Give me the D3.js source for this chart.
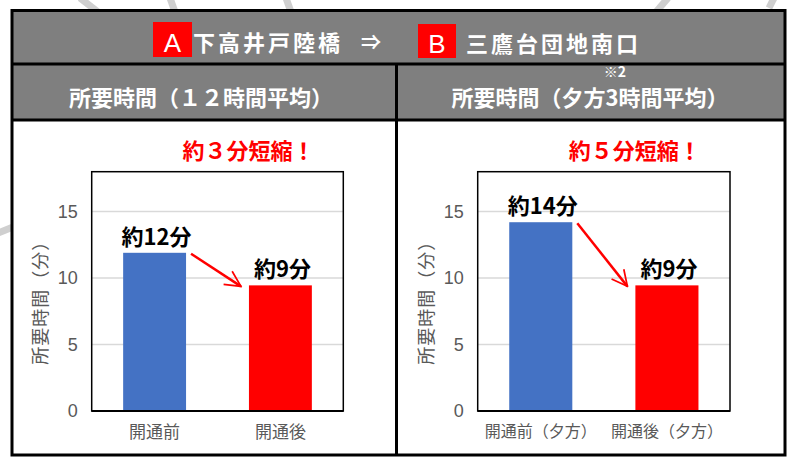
<!DOCTYPE html>
<html><head><meta charset="utf-8">
<script src="https://cdn.jsdelivr.net/npm/d3@7"></script>
<style>
html,body{margin:0;padding:0;background:#fff;}
svg{display:block;}
</style></head>
<body>
<svg id="chart" width="787" height="459"></svg>
<script>
// ---- data ----
const routeFrom = "下高井戸陸橋";
const routeTo = "三鷹台団地南口";
const markerFrom = "A";
const markerTo = "B";
const panelTitles = ["所要時間（１２時間平均）", "所要時間（夕方3時間平均）"];
const panelNote = "※2";
const categoriesLeft = ["開通前", "開通後"];
const valuesLeft = [11.9, 9.45];
const labelsLeft = ["約12分", "約9分"];
const categoriesRight = ["開通前（夕方）", "開通後（夕方）"];
const valuesRight = [14.2, 9.45];
const labelsRight = ["約14分", "約9分"];
const callouts = ["約３分短縮！", "約５分短縮！"];
const yTicks = [0, 5, 10, 15];
const yMax = 18;
const yTitle = "所要時間（分）";
const barColors = ["#4472C4", "#FF0000"];

const svg = d3.select("#chart");
const JP = "'Noto Sans CJK JP','Noto Sans',sans-serif";
const NARROW = "'Liberation Sans Narrow','Arial Narrow','Liberation Sans',sans-serif";

// background decorative strokes (map lines behind)
const bg = svg.append("g").attr("stroke", "#cfcfcf").attr("stroke-width", 7).attr("stroke-linecap", "butt");
[[80,-2,98,12],[170,-2,175,12],[286,-2,291,12],[668,-2,656,12],[774,-2,769,8],[-2,233,13,227]].forEach(s=>{
  bg.append("line").attr("x1",s[0]).attr("y1",s[1]).attr("x2",s[2]).attr("y2",s[3]);
});

// frame
const L = 12, R = 785, T = 10.5, B = 455, midX = 396.5;
svg.append("rect").attr("x", L).attr("y", T).attr("width", R-L).attr("height", B-T).attr("fill", "#fff");
svg.append("rect").attr("x", L).attr("y", T).attr("width", R-L).attr("height", 53).attr("fill", "#7f7f7f");
svg.append("rect").attr("x", L).attr("y", 64.5).attr("width", R-L).attr("height", 55).attr("fill", "#7f7f7f");

// header content
const hdr = svg.append("g");
hdr.append("rect").attr("x", 153).attr("y", 22).attr("width", 39).attr("height", 35).attr("fill", "#FF0000");
hdr.append("text").attr("x", 172.5).attr("y", 51.5).attr("text-anchor", "middle")
  .attr("font-family", "'Liberation Sans',Arial,sans-serif").attr("font-size", 26).attr("fill", "#fff").text(markerFrom);
hdr.append("text").attr("x", 193).attr("y", 41).attr("dominant-baseline", "central")
  .attr("font-family", JP).attr("font-weight", 700).attr("font-size", 22).attr("letter-spacing", 3)
  .attr("fill", "#fff").text(routeFrom);
hdr.append("text").attr("x", 371).attr("y", 41).attr("dominant-baseline", "central").attr("text-anchor", "middle")
  .attr("font-family", JP).attr("font-weight", 700).attr("font-size", 20).attr("fill", "#fff").text("⇒");
hdr.append("rect").attr("x", 418).attr("y", 24).attr("width", 38).attr("height", 34).attr("fill", "#FF0000");
hdr.append("text").attr("x", 437).attr("y", 52.5).attr("text-anchor", "middle")
  .attr("font-family", "'Liberation Sans',Arial,sans-serif").attr("font-size", 26).attr("fill", "#fff").text(markerTo);
hdr.append("text").attr("x", 466).attr("y", 42).attr("dominant-baseline", "central")
  .attr("font-family", JP).attr("font-weight", 700).attr("font-size", 22).attr("letter-spacing", 3)
  .attr("fill", "#fff").text(routeTo);

// panel titles
const titleX = [201, 590];
panelTitles.forEach((t,i)=>{
  svg.append("text").attr("x", titleX[i]).attr("y", 96).attr("dominant-baseline", "central").attr("text-anchor", "middle")
    .attr("font-family", JP).attr("font-weight", 700).attr("font-size", 22).attr("fill", "#fff").text(t);
});
svg.append("text").attr("x", 615).attr("y", 71).attr("dominant-baseline", "central").attr("text-anchor", "middle")
  .attr("font-family", JP).attr("font-weight", 700).attr("font-size", 14).attr("fill", "#fff").text(panelNote);

// frame lines
const fr = svg.append("g").attr("stroke", "#000").attr("stroke-width", 3).attr("fill", "none");
fr.append("rect").attr("x", L).attr("y", T).attr("width", R-L).attr("height", B-T);
fr.append("line").attr("x1", L).attr("x2", R).attr("y1", 64).attr("y2", 64);
fr.append("line").attr("x1", L).attr("x2", R).attr("y1", 120).attr("y2", 120);
fr.append("line").attr("x1", midX).attr("x2", midX).attr("y1", 64).attr("y2", B);

// arrow marker
const defs = svg.append("defs");
defs.append("marker").attr("id", "arrowhead").attr("viewBox", "0 0 12 12").attr("refX", 11).attr("refY", 6)
  .attr("markerWidth", 7.5).attr("markerHeight", 7.5).attr("markerUnits", "strokeWidth").attr("orient", "auto")
  .append("path").attr("d", "M1,1 L11,6 L1,11").attr("fill", "none").attr("stroke", "#FF0000").attr("stroke-width", 1.1);

function drawPanel(cfg){
  const {x0, x1, cats, vals, labels, callout, catFont} = cfg;
  const y0 = 171.7, y1 = 411;
  const x = d3.scaleBand().domain(cats).range([x0, x1]).paddingInner(0.5).paddingOuter(0.25);
  const y = d3.scaleLinear().domain([0, yMax]).range([y1, y0]);
  const g = svg.append("g");

  // gridlines
  g.append("g").selectAll("line").data(yTicks.filter(d=>d>0)).join("line")
    .attr("x1", x0).attr("x2", x1).attr("y1", d=>y(d)).attr("y2", d=>y(d))
    .attr("stroke", "#d9d9d9").attr("stroke-width", 1.5);

  // y axis tick labels
  const ax = g.append("g").attr("transform", `translate(${x0},0)`)
    .call(d3.axisLeft(y).tickValues(yTicks).tickSize(0).tickPadding(14));
  ax.select(".domain").remove();
  ax.selectAll("text").attr("font-family", NARROW).attr("font-size", 18).attr("fill", "#595959");

  // bars
  g.append("g").selectAll("rect").data(vals).join("rect")
    .attr("x", (d,i)=>x(cats[i])).attr("width", x.bandwidth())
    .attr("y", d=>y(d)).attr("height", d=>y1 - y(d))
    .attr("fill", (d,i)=>barColors[i]);

  // plot frame
  g.append("rect").attr("x", x0).attr("y", y0).attr("width", x1-x0).attr("height", y1-y0)
    .attr("fill", "none").attr("stroke", "#000").attr("stroke-width", 1.5);
  g.append("line").attr("x1", x0).attr("x2", x1).attr("y1", y1).attr("y2", y1).attr("stroke", "#000").attr("stroke-width", 2);

  // x category labels
  const xa = g.append("g").attr("transform", `translate(0,${y1})`)
    .call(d3.axisBottom(x).tickSize(0).tickPadding(15));
  xa.select(".domain").remove();
  xa.selectAll("text").attr("font-family", JP).attr("font-size", catFont).attr("fill", "#595959");

  // y title
  g.append("text").attr("transform", `translate(${x0-53},${(y0+y1)/2+7}) rotate(-90)`)
    .attr("text-anchor", "middle").attr("dominant-baseline", "central")
    .attr("font-family", JP).attr("font-size", 18).attr("letter-spacing", 1).attr("fill", "#595959").text(yTitle);

  // value labels
  g.append("g").selectAll("text").data(labels).join("text")
    .attr("x", (d,i)=>x(cats[i]) + x.bandwidth()/2 + 2).attr("y", (d,i)=>y(vals[i]) - 18)
    .attr("text-anchor", "middle").attr("dominant-baseline", "central")
    .attr("font-family", JP).attr("font-weight", 700).attr("font-size", 22).attr("fill", "#000").text(d=>d);

  // arrow
  g.append("line")
    .attr("x1", x(cats[0]) + x.bandwidth() + 5).attr("y1", y(vals[0]) + 1)
    .attr("x2", x(cats[1]) - 8).attr("y2", y(vals[1]) + 1)
    .attr("stroke", "#FF0000").attr("stroke-width", 2.5).attr("marker-end", "url(#arrowhead)");

  // callout
  g.append("text").attr("x", (x0+x1)/2 + 31).attr("y", 149)
    .attr("text-anchor", "middle").attr("dominant-baseline", "central")
    .attr("font-family", JP).attr("font-weight", 700).attr("font-size", 22).attr("fill", "#FF0000").text(callout);
}

drawPanel({x0: 91.7, x1: 343.3, cats: categoriesLeft, vals: valuesLeft, labels: labelsLeft, callout: callouts[0], catFont: 17});
drawPanel({x0: 477.7, x1: 730, cats: categoriesRight, vals: valuesRight, labels: labelsRight, callout: callouts[1], catFont: 16});
</script>
</body></html>
